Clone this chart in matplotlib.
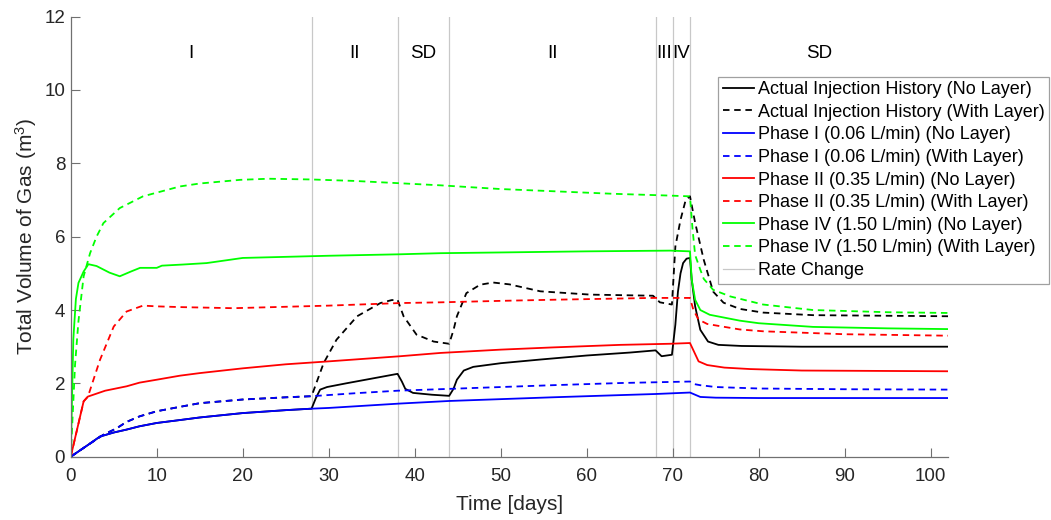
import matplotlib
matplotlib.use("Agg")
import matplotlib.pyplot as plt

plt.rcParams['font.family'] = ['Liberation Sans', 'DejaVu Sans']
plt.rcParams['mathtext.default'] = 'regular'

# ---- data (time in days, volume in m^3) ----
t_p1_nl = [0, 1, 2, 3.4, 5, 6.5, 8, 10, 12.7, 15, 20, 25, 28, 30, 38.3, 44, 50, 56,
           63.9, 68, 72, 72.5, 73.2, 75, 80, 90, 102]
v_p1_nl = [0, 0.16, 0.32, 0.55, 0.66, 0.74, 0.83, 0.92, 1.0, 1.07, 1.19, 1.27, 1.31, 1.33,
           1.45, 1.52, 1.57, 1.62, 1.68, 1.71, 1.75, 1.70, 1.63, 1.61, 1.60, 1.60, 1.60]

t_p1_wl = [0, 2, 3.8, 5.3, 6.5, 8, 10, 12.7, 15, 20, 25, 28, 33, 38, 44, 50, 56, 64, 68,
           72, 72.5, 73.2, 75, 80, 90, 102]
v_p1_wl = [0, 0.32, 0.6, 0.77, 0.95, 1.1, 1.24, 1.36, 1.46, 1.56, 1.62, 1.65, 1.73, 1.8,
           1.85, 1.9, 1.95, 2.01, 2.03, 2.05, 1.98, 1.95, 1.9, 1.86, 1.84, 1.83]

t_act_nl = [0, 1, 2, 3.4, 5, 6.5, 8, 10, 12.7, 15, 20, 25, 28, 28.5, 29, 29.8, 32, 35, 38,
            38.5, 38.9, 39.8, 42, 44, 44.5, 44.9, 45.7, 46.8, 50, 54.6, 60, 65, 68, 68.7,
            69.9, 70.3, 70.6, 70.9, 71.2, 71.6, 72, 72.2, 72.6, 73.2, 74.1, 75.3, 78, 85, 102]
v_act_nl = [0, 0.16, 0.32, 0.55, 0.66, 0.74, 0.83, 0.92, 1.0, 1.07, 1.19, 1.27, 1.31, 1.6,
            1.83, 1.9, 2.0, 2.13, 2.26, 2.05, 1.85, 1.74, 1.69, 1.66, 1.85, 2.1, 2.35, 2.45,
            2.55, 2.65, 2.76, 2.84, 2.9, 2.74, 2.78, 3.6, 4.5, 5.0, 5.28, 5.4, 5.42, 4.83,
            4.1, 3.46, 3.14, 3.05, 3.02, 3.0, 3.0]

t_act_wl = [0, 2, 3.8, 5.3, 6.5, 8, 10, 12.7, 15, 20, 25, 28, 29.4, 30.9, 33.3, 36, 37.3,
            38, 38.7, 40.2, 42.2, 44, 44.5, 44.9, 46, 47.6, 49.1, 51, 54.6, 60.4, 67.7,
            68.5, 69.9, 70.3, 70.9, 71.5, 72, 72.6, 73.6, 74.7, 75.9, 77.8, 80.5, 86.3, 102]
v_act_wl = [0, 0.32, 0.6, 0.77, 0.95, 1.1, 1.24, 1.36, 1.46, 1.56, 1.62, 1.65, 2.55, 3.19,
            3.83, 4.19, 4.27, 4.28, 3.83, 3.33, 3.14, 3.08, 3.45, 3.83, 4.46, 4.69, 4.75,
            4.7, 4.51, 4.42, 4.39, 4.21, 4.15, 5.73, 6.46, 7.0, 7.1, 6.38, 5.37, 4.5, 4.2,
            4.03, 3.93, 3.86, 3.83]

t_p2_nl = [0, 1.5, 2, 4, 6.5, 8, 10, 12.7, 15, 20, 25, 30, 38.3, 43, 50, 56, 63.9, 69.7,
           72, 72.5, 73, 74, 76, 79, 85, 102]
v_p2_nl = [0, 1.51, 1.64, 1.8, 1.92, 2.02, 2.1, 2.21, 2.28, 2.41, 2.52, 2.6, 2.74, 2.83,
           2.92, 2.98, 3.05, 3.08, 3.1, 2.85, 2.6, 2.5, 2.43, 2.39, 2.35, 2.33]

t_p2_wl = [0, 1.5, 2, 3.4, 5, 6.5, 8.4, 10, 12.7, 18.9, 30, 38.3, 43, 50, 56, 67.7, 72,
           72.4, 73, 74, 75.5, 77.8, 80.5, 90, 102]
v_p2_wl = [0, 1.51, 1.64, 2.64, 3.55, 3.96, 4.12, 4.1, 4.08, 4.05, 4.12, 4.19, 4.21, 4.25,
           4.28, 4.33, 4.33, 4.0, 3.74, 3.62, 3.56, 3.47, 3.42, 3.34, 3.3]

t_p4_nl = [0, 0.3, 0.6, 0.9, 1.5, 2.05, 3, 4.5, 5.7, 7, 8.06, 10, 10.6, 13, 15.8, 20, 25,
           30, 38.3, 43, 50, 60, 69.7, 72, 72.2, 72.6, 73.2, 74.3, 77.8, 80, 86.3, 95, 102]
v_p4_nl = [0, 3.2, 4.3, 4.74, 5.05, 5.25, 5.2, 5.02, 4.92, 5.05, 5.15, 5.15, 5.21, 5.24,
           5.28, 5.42, 5.45, 5.48, 5.52, 5.55, 5.57, 5.6, 5.62, 5.6, 4.83, 4.28, 4.0, 3.87,
           3.71, 3.64, 3.54, 3.5, 3.48]

t_p4_wl = [0, 0.5, 0.9, 1.5, 2.25, 3, 3.8, 5.7, 8.4, 12.7, 15, 19.7, 23, 28, 33, 38, 43,
           49.9, 56, 63, 69.7, 72, 72.3, 72.6, 73.2, 73.6, 74.7, 76.7, 80.5, 86.3, 95, 102]
v_p4_wl = [0, 2.5, 3.7, 4.92, 5.55, 6.0, 6.37, 6.78, 7.1, 7.37, 7.45, 7.55, 7.58, 7.56,
           7.52, 7.46, 7.4, 7.3, 7.24, 7.17, 7.12, 7.1, 6.2, 5.5, 5.1, 4.85, 4.55, 4.37,
           4.15, 4.0, 3.94, 3.92]

rate_changes = [28, 38, 44, 68, 70, 72]
phase_names = ['I', 'II', 'SD', 'II', 'III', 'IV', 'SD']
phase_x = [14, 33, 41, 56, 69, 71, 87]

labels = ['Actual Injection History (No Layer)', 'Actual Injection History (With Layer)',
          'Phase I (0.06 L/min) (No Layer)', 'Phase I (0.06 L/min) (With Layer)',
          'Phase II (0.35 L/min) (No Layer)', 'Phase II (0.35 L/min) (With Layer)',
          'Phase IV (1.50 L/min) (No Layer)', 'Phase IV (1.50 L/min) (With Layer)']

fig = plt.figure(figsize=(10.51, 5.2), dpi=100)
ax = fig.add_axes([0.0673, 0.1217, 0.8347, 0.8463])

dash = (0, (3.6, 2.6))
lw = 1.3
ax.plot(t_act_nl, v_act_nl, color='k', lw=lw, label=labels[0])
ax.plot(t_act_wl, v_act_wl, color='k', lw=lw, ls=dash, label=labels[1])
ax.plot(t_p1_nl, v_p1_nl, color='#0000ff', lw=lw, label=labels[2])
ax.plot(t_p1_wl, v_p1_wl, color='#0000ff', lw=lw, ls=dash, label=labels[3])
ax.plot(t_p2_nl, v_p2_nl, color='#ff0000', lw=lw, label=labels[4])
ax.plot(t_p2_wl, v_p2_wl, color='#ff0000', lw=lw, ls=dash, label=labels[5])
ax.plot(t_p4_nl, v_p4_nl, color='#00ff00', lw=lw, label=labels[6])
ax.plot(t_p4_wl, v_p4_wl, color='#00ff00', lw=lw, ls=dash, label=labels[7])

for i, xc in enumerate(rate_changes):
    ax.axvline(xc, color='#c8c8c8', lw=0.9, zorder=0,
               label='Rate Change' if i == 0 else None)

for name, xp in zip(phase_names, phase_x):
    ax.text(xp, 11, name, ha='center', va='center', fontsize=13.5, color='k')

ax.set_xlim(0, 102)
ax.set_ylim(0, 12)
ax.set_xticks(range(0, 101, 10))
ax.set_yticks(range(0, 13, 2))
for s in ['top', 'right']:
    ax.spines[s].set_visible(False)
for s in ['left', 'bottom']:
    ax.spines[s].set_color('#707070')
    ax.spines[s].set_linewidth(0.9)
ax.tick_params(direction='in', length=6.3, width=0.8, color='#707070',
               labelsize=13.5, labelcolor='#262626')
ax.tick_params(axis='x', pad=8)
ax.tick_params(axis='y', pad=4)

ax.set_xlabel('Time [days]', fontsize=15, color='#262626', labelpad=7)
ax.set_ylabel('Total Volume of Gas (m$^3$)', fontsize=15, color='#262626', labelpad=4)

leg = ax.legend(loc='upper left', bbox_to_anchor=(718.3 / 1051, 1 - 76.7 / 520),
                bbox_transform=fig.transFigure, borderaxespad=0, fontsize=13,
                fancybox=False, framealpha=1, edgecolor='#a0a0a0',
                handlelength=1.75, handletextpad=0.2, labelspacing=0.31,
                borderpad=0.25)
leg.get_frame().set_linewidth(0.9)

fig.savefig('out.png', dpi=100)
